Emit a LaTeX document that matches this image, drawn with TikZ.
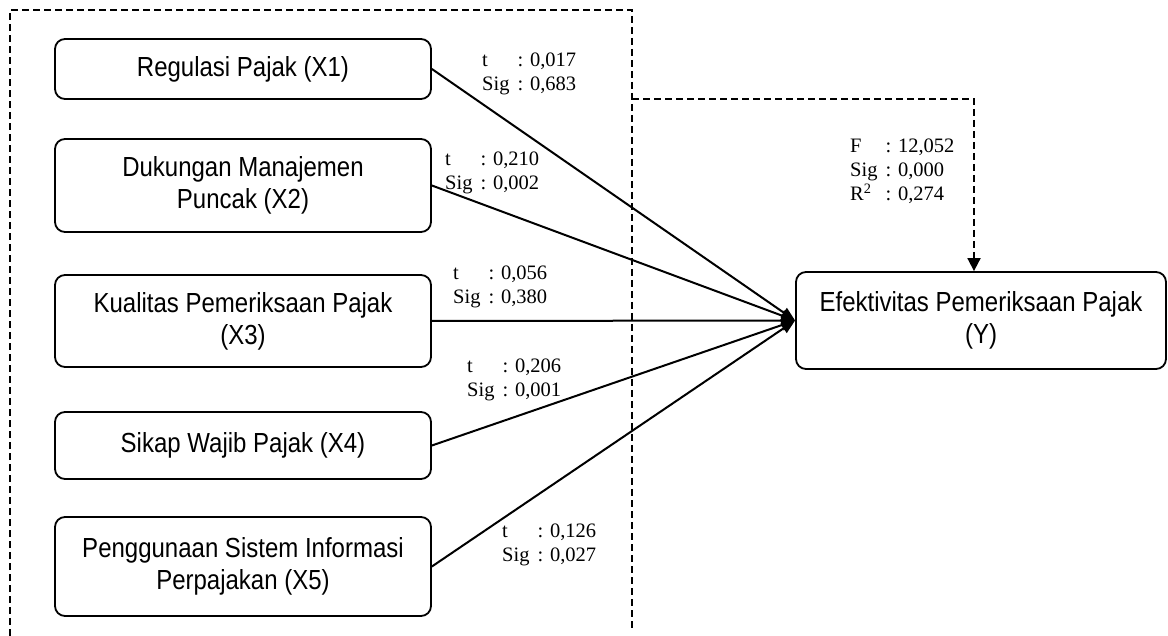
\documentclass[tikz,border=0pt]{standalone}
\usepackage{fontspec}
\setmainfont{Liberation Serif}
\newfontfamily\arial{Liberation Sans}
\usepackage{graphicx}
\usetikzlibrary{arrows.meta}
\newcommand\vs[1]{\scalebox{1}[1.15]{#1}}
\newcommand\stab[4]{\begin{tabular}{@{}l@{\hspace{8pt}}l@{}}#1 & : #2\\ #3 & : #4\end{tabular}}
\tikzset{
  var/.style={draw, line width=1.8pt, rounded corners=10pt, inner sep=0pt,
    font=\arial\fontsize{24}{32}\selectfont, align=center},
  stat/.style={inner sep=0pt, anchor=west, font=\fontsize{20.5}{24}\selectfont},
  conn/.style={line width=2pt, -{Triangle[length=14pt,width=11pt]}},
  dashline/.style={line width=1.8pt, dash pattern=on 7pt off 4pt},
}
\begin{document}
\begin{tikzpicture}[x=1pt,y=-1pt]
\useasboundingbox (0,0) rectangle (1168,636);
% outer dashed frame
\coordinate (o1) at (10,636);
\coordinate (o2) at (10,10);
\coordinate (o3) at (632,10);
\coordinate (o4) at (632,630);
\draw[dashline] (o1) -- (o2) -- (o3) -- (o4);
% boxes
\node[var, minimum width=376pt, minimum height=60pt] (x1) at (243,69) {\vs{Regulasi Pajak (X1)}};
\node[var, minimum width=376pt, minimum height=93pt] (x2) at (243,185.5) {\vs{Dukungan Manajemen}\\\vs{Puncak (X2)}};
\node[var, minimum width=376pt, minimum height=92pt] (x3) at (243,321) {\vs{Kualitas Pemeriksaan Pajak}\\\vs{(X3)}};
\node[var, minimum width=376pt, minimum height=67pt] (x4) at (243,445.5) {\vs{Sikap Wajib Pajak (X4)}};
\node[var, minimum width=376pt, minimum height=99pt] (x5) at (243,566.5) {\vs{Penggunaan Sistem Informasi}\\\vs{Perpajakan (X5)}};
\node[var, minimum width=370pt, minimum height=97pt] (y) at (981,320.5) {\vs{Efektivitas Pemeriksaan Pajak}\\\vs{(Y)}};
% connectors
\draw[conn] (x1.east) -- (y.west);
\draw[conn] (x2.east) -- (y.west);
\draw[conn] (x3.east) -- (y.west);
\draw[conn] (x4.east) -- (y.west);
\draw[conn] (x5.east) -- (y.west);
% dashed simultaneous arrow
\coordinate (c1) at (632,99);
\coordinate (c2) at (974,99);
\draw[dashline, -{Triangle[length=13pt,width=13pt]}] (c1) -- (c2) -- (c2 |- y.north);
% statistics
\node[stat] (l1) at (482,73.5) {\stab{t}{0,017}{Sig}{0,683}};
\node[stat] (l2) at (445,172.5) {\stab{t}{0,210}{Sig}{0,002}};
\node[stat] (l3) at (453,287) {\stab{t}{0,056}{Sig}{0,380}};
\node[stat] (l4) at (467,379.5) {\stab{t}{0,206}{Sig}{0,001}};
\node[stat] (l5) at (502,545) {\stab{t}{0,126}{Sig}{0,027}};
\node[stat] (lf) at (850,172) {\begin{tabular}{@{}l@{\hspace{8pt}}l@{}}F & : 12,052\\ Sig & : 0,000\\ R\textsuperscript{2} & : 0,274\end{tabular}};
\end{tikzpicture}
\end{document}
